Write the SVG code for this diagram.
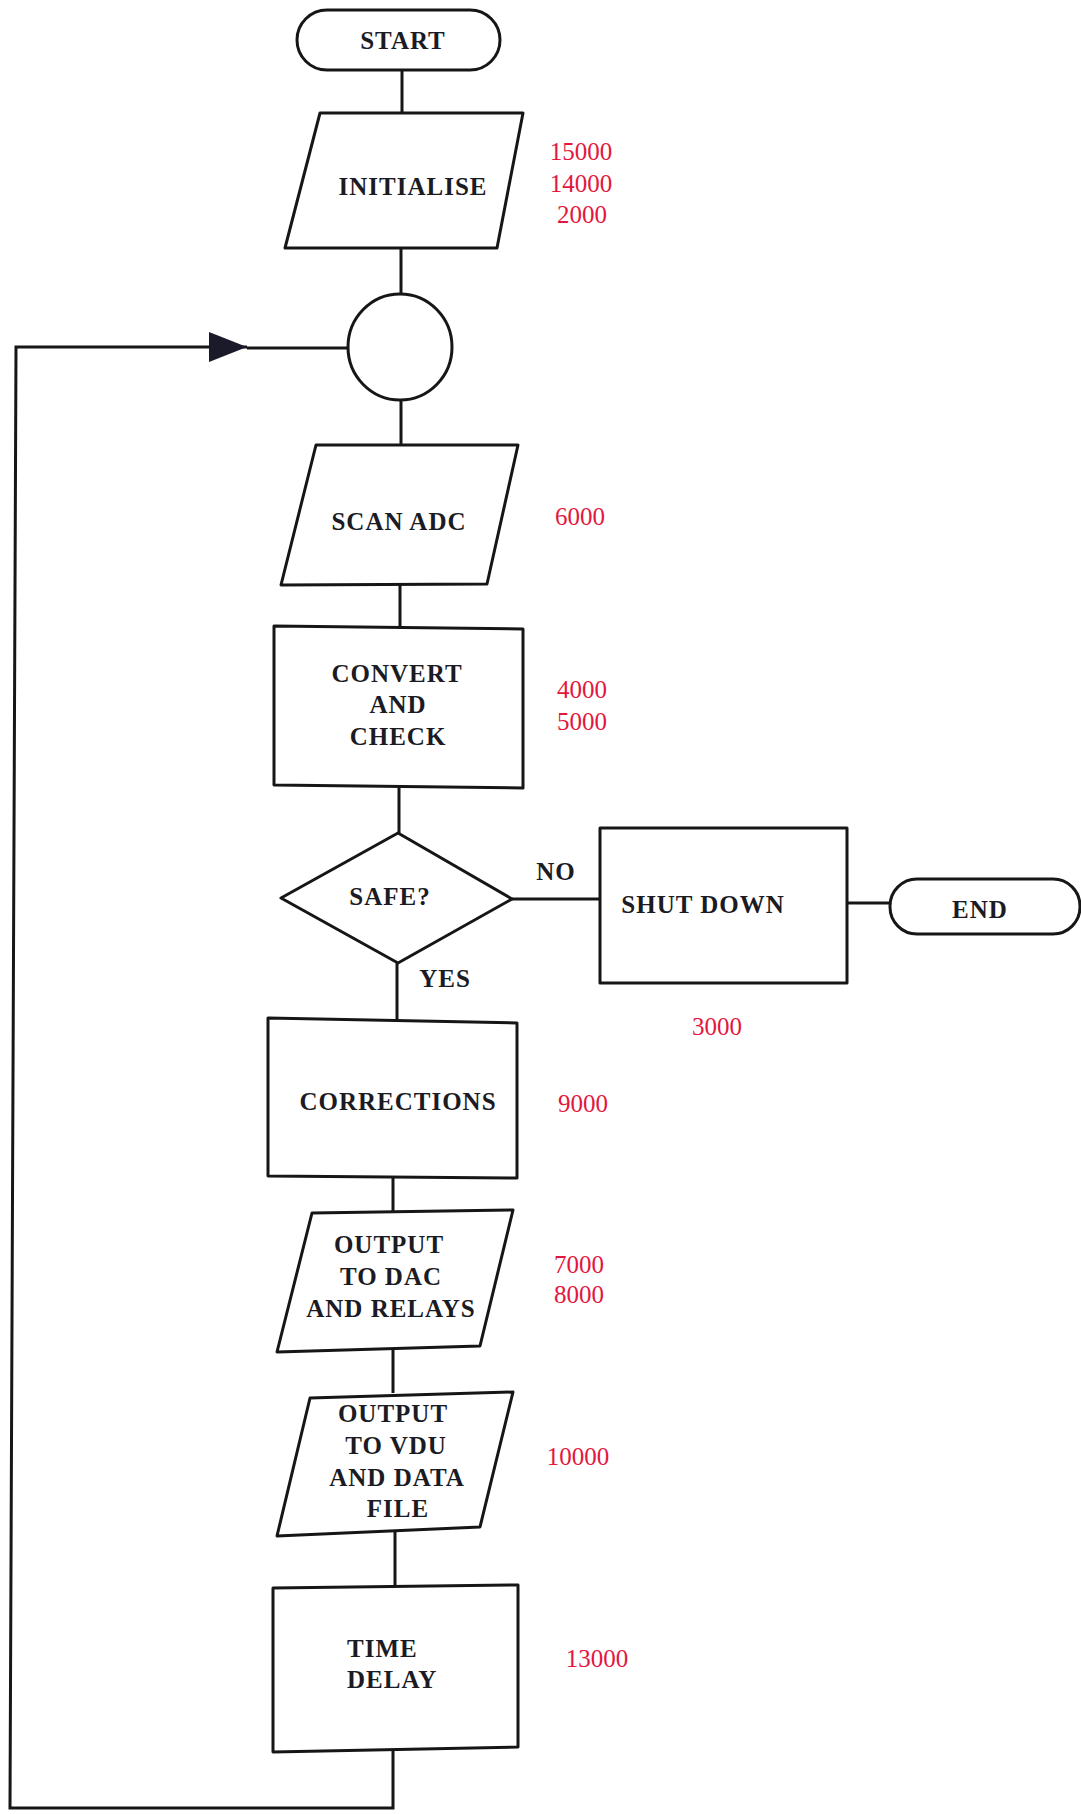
<svg xmlns="http://www.w3.org/2000/svg" width="1081" height="1814" viewBox="0 0 1081 1814">
  <defs>
    <style>
      .shape{fill:#fff;stroke:#161616;stroke-width:3;stroke-linejoin:round}
      .wire{fill:none;stroke:#161616;stroke-width:3;stroke-linejoin:miter}
      .lbl{font-family:"Liberation Serif","Times New Roman",serif;font-weight:bold;font-size:25px;fill:#1b1b24;text-anchor:middle;letter-spacing:1px}
      .num{font-family:"Liberation Serif","Times New Roman",serif;font-size:25px;fill:#e3173e;text-anchor:middle}
    </style>
    <marker id="arrow" viewBox="0 0 38 30" refX="38" refY="15" markerWidth="38" markerHeight="30" markerUnits="userSpaceOnUse" orient="auto">
      <path d="M0,0 L38,15 L0,30 Z" fill="#1a1a2a"/>
    </marker>
  </defs>
  <rect width="1081" height="1814" fill="#fff"/>

  <!-- connectors -->
  <g id="connectors">
    <path class="wire" d="M402,70 V113"/>
    <path class="wire" d="M401,248 V295"/>
    <path class="wire" d="M401,400 V445"/>
    <path class="wire" d="M400,585 V628"/>
    <path class="wire" d="M399,787 V833"/>
    <path class="wire" d="M512,899 H600"/>
    <path class="wire" d="M847,903 H890"/>
    <path class="wire" d="M397,963 V1020"/>
    <path class="wire" d="M393,1177 V1212"/>
    <path class="wire" d="M393,1350 V1393"/>
    <path class="wire" d="M395,1532 V1587"/>
    <!-- loop back to the junction circle -->
    <path class="wire" d="M393,1750 V1808 H10 L16,347 H247" marker-end="url(#arrow)"/>
    <path class="wire" d="M247,348 H348"/>
  </g>

  <g id="start">
    <rect class="shape" x="297" y="10" width="203" height="60" rx="30"/>
    <text class="lbl" x="403" y="49">START</text>
  </g>

  <g id="initialise">
    <path class="shape" d="M320,113 L523,113 L497,248 L285,248 Z"/>
    <text class="lbl" x="413" y="195">INITIALISE</text>
  </g>
  <g id="n-initialise">
    <text class="num" x="581" y="160">15000</text>
    <text class="num" x="581" y="192">14000</text>
    <text class="num" x="582" y="223">2000</text>
  </g>

  <g id="junction">
    <ellipse class="shape" cx="400" cy="347" rx="52" ry="53"/>
  </g>

  <g id="scan-adc">
    <path class="shape" d="M316,445 L518,445 L487,584 L281,585 Z"/>
    <text class="lbl" x="399" y="530">SCAN ADC</text>
  </g>
  <text class="num" x="580" y="525">6000</text>

  <g id="convert-check">
    <path class="shape" d="M274,626 L523,629 L523,788 L274,785 Z"/>
    <text class="lbl" x="397" y="682">CONVERT</text>
    <text class="lbl" x="398" y="713">AND</text>
    <text class="lbl" x="398" y="745">CHECK</text>
  </g>
  <g id="n-convert">
    <text class="num" x="582" y="698">4000</text>
    <text class="num" x="582" y="730">5000</text>
  </g>

  <g id="safe">
    <path class="shape" d="M398,833 L512,899 L398,963 L281,898 Z"/>
    <text class="lbl" x="390" y="905">SAFE?</text>
  </g>
  <text class="lbl" x="556" y="880">NO</text>
  <text class="lbl" x="445" y="987">YES</text>

  <g id="shut-down">
    <path class="shape" d="M600,828 L847,828 L847,983 L600,983 Z"/>
    <text class="lbl" x="703" y="913">SHUT DOWN</text>
  </g>
  <text class="num" x="717" y="1035">3000</text>

  <g id="end">
    <rect class="shape" x="890" y="879" width="190" height="55" rx="27"/>
    <text class="lbl" x="980" y="918">END</text>
  </g>

  <g id="corrections">
    <path class="shape" d="M268,1018 L517,1023 L517,1178 L268,1176 Z"/>
    <text class="lbl" x="398" y="1110">CORRECTIONS</text>
  </g>
  <text class="num" x="583" y="1112">9000</text>

  <g id="output-dac">
    <path class="shape" d="M312,1213 L513,1210 L480,1346 L277,1352 Z"/>
    <text class="lbl" x="389" y="1253">OUTPUT</text>
    <text class="lbl" x="391" y="1285">TO DAC</text>
    <text class="lbl" x="391" y="1317">AND RELAYS</text>
  </g>
  <g id="n-dac">
    <text class="num" x="579" y="1273">7000</text>
    <text class="num" x="579" y="1303">8000</text>
  </g>

  <g id="output-vdu">
    <path class="shape" d="M310,1398 L513,1392 L480,1527 L277,1536 Z"/>
    <text class="lbl" x="393" y="1422">OUTPUT</text>
    <text class="lbl" x="396" y="1454">TO VDU</text>
    <text class="lbl" x="397" y="1486">AND DATA</text>
    <text class="lbl" x="398" y="1517">FILE</text>
  </g>
  <text class="num" x="578" y="1465">10000</text>

  <g id="time-delay">
    <path class="shape" d="M273,1588 L518,1585 L518,1747 L273,1752 Z"/>
    <text class="lbl" x="347" y="1657" style="text-anchor:start">TIME</text>
    <text class="lbl" x="347" y="1688" style="text-anchor:start">DELAY</text>
  </g>
  <text class="num" x="597" y="1667">13000</text>
</svg>
